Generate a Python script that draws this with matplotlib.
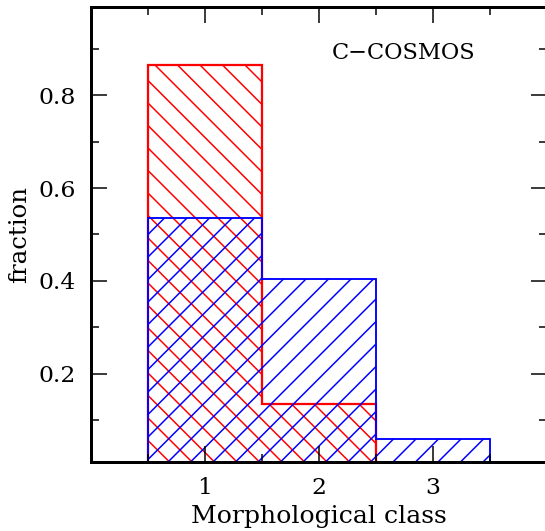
import matplotlib
matplotlib.use("Agg")
import matplotlib.pyplot as plt
from matplotlib.ticker import MultipleLocator, FixedLocator

# fraction of sources in each morphological class
classes = [1, 2, 3]
frac_red = [0.865, 0.135, 0.0]
frac_blue = [0.535, 0.405, 0.06]
bin_edges = [0.5, 1.5, 2.5, 3.5]

DPI = 135
plt.rcParams['font.family'] = ['DejaVu Serif']
plt.rcParams['hatch.linewidth'] = 0.8

fig = plt.figure(figsize=(545 / DPI, 531 / DPI), dpi=DPI)
ax = fig.add_axes([91 / 545, 69 / 531, 456 / 545, 455 / 531])

ax.stairs(frac_red, bin_edges, fill=True, facecolor='none', edgecolor='red',
          hatch='\\\\', linewidth=1.2)
ax.stairs(frac_blue, bin_edges, fill=True, facecolor='none', edgecolor='blue',
          hatch='//', linewidth=1.0)

ax.set_xlim(0, 4)
ax.set_ylim(0.01, 0.99)

ax.xaxis.set_major_locator(FixedLocator(classes))
ax.xaxis.set_minor_locator(MultipleLocator(0.5))
ax.yaxis.set_major_locator(FixedLocator([0.2, 0.4, 0.6, 0.8]))
ax.yaxis.set_minor_locator(MultipleLocator(0.1))

ax.tick_params(which='both', direction='in', top=True, right=True, width=0.8)
ax.tick_params(which='major', length=8.5, labelsize=12.5, pad=8)
ax.tick_params(which='minor', length=4.3)
for s in ax.spines.values():
    s.set_linewidth(1.6)

ax.set_xlabel('Morphological class', fontsize=13.4, labelpad=3)
ax.set_ylabel('fraction', fontsize=13, labelpad=4)
ax.text(0.686, 0.898, 'C\u2212COSMOS', transform=ax.transAxes,
        fontsize=12, ha='center', va='center')

fig.savefig('out.png', dpi=DPI)
